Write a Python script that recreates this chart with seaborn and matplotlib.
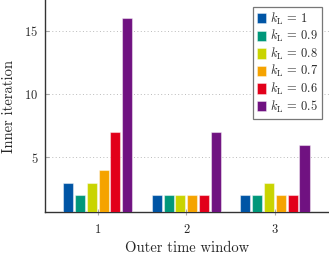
import numpy as np
import pandas as pd
import matplotlib
matplotlib.use('Agg')
import seaborn as sns
import matplotlib.pyplot as plt
from matplotlib.patches import Rectangle

# values
windows = ['1', '2', '3']
k_labels = [r'$k_{\mathrm{L}}\,=\,1$', r'$k_{\mathrm{L}}\,=\,0.9$', r'$k_{\mathrm{L}}\,=\,0.8$',
            r'$k_{\mathrm{L}}\,=\,0.7$', r'$k_{\mathrm{L}}\,=\,0.6$', r'$k_{\mathrm{L}}\,=\,0.5$']
iters_w1 = [3, 2, 3, 4, 7, 16]
iters_w2 = [2, 2, 2, 2, 2, 7]
iters_w3 = [2, 2, 3, 2, 2, 6]
colors = ['#0055a5', '#00977a', '#c9d400', '#f5a300', '#e2001a', '#701281']

rows = []
for w, vals in zip(windows, [iters_w1, iters_w2, iters_w3]):
    for k, v in zip(k_labels, vals):
        rows.append({'window': w, 'k': k, 'iters': v})
df = pd.DataFrame(rows)

sns.set_style('white')
plt.rcParams['font.family'] = ['cmr10']
plt.rcParams['mathtext.fontset'] = 'cm'
plt.rcParams['axes.formatter.use_mathtext'] = True

fig = plt.figure(figsize=(3.29, 2.6), dpi=100)
ax = fig.add_axes([0.137, 0.1835, 0.863, 0.8165])

sns.barplot(data=df, x='window', y='iters', hue='k', hue_order=k_labels,
            order=windows, palette=colors, saturation=1, width=0.8, gap=0.15,
            edgecolor=(1, 1, 1, 0.45), linewidth=0.8, ax=ax, zorder=3)

ax.set_xlim(-0.594, 2.61)
ax.set_ylim(0.65, 17.45)
ax.set_yticks([5, 10, 15])
ax.yaxis.grid(True, linestyle=(0, (1, 2.5)), color='#bbbbbb', linewidth=0.7)
ax.set_axisbelow(True)

for s in ['top', 'right']:
    ax.spines[s].set_visible(False)
for s in ['left', 'bottom']:
    ax.spines[s].set_color('#333333')
    ax.spines[s].set_linewidth(1.0)

ax.tick_params(axis='x', direction='inout', length=5, color='#aaaaaa', labelsize=9, pad=6)
ax.tick_params(axis='y', direction='in', length=3, color='#aaaaaa', labelsize=9, pad=5)
ax.tick_params(left=True, bottom=True)

ax.set_xlabel('Outer time window', fontsize=10.5, labelpad=4)
ax.set_ylabel('Inner iteration', fontsize=10.5, labelpad=6)

handles = [Rectangle((0, 0), 1, 1, facecolor=c, edgecolor=(1, 1, 1, 0.45), linewidth=0.6) for c in colors]
leg = ax.legend(handles, k_labels, loc='upper right', bbox_to_anchor=(0.983, 0.98),
                fontsize=9, frameon=True, fancybox=False, framealpha=1,
                edgecolor='#777777', handlelength=0.7, handleheight=0.9,
                handletextpad=0.3, labelspacing=0.12, borderpad=0.3, borderaxespad=0.2)
leg.get_frame().set_linewidth(0.9)

fig.savefig('out.png', dpi=100)
